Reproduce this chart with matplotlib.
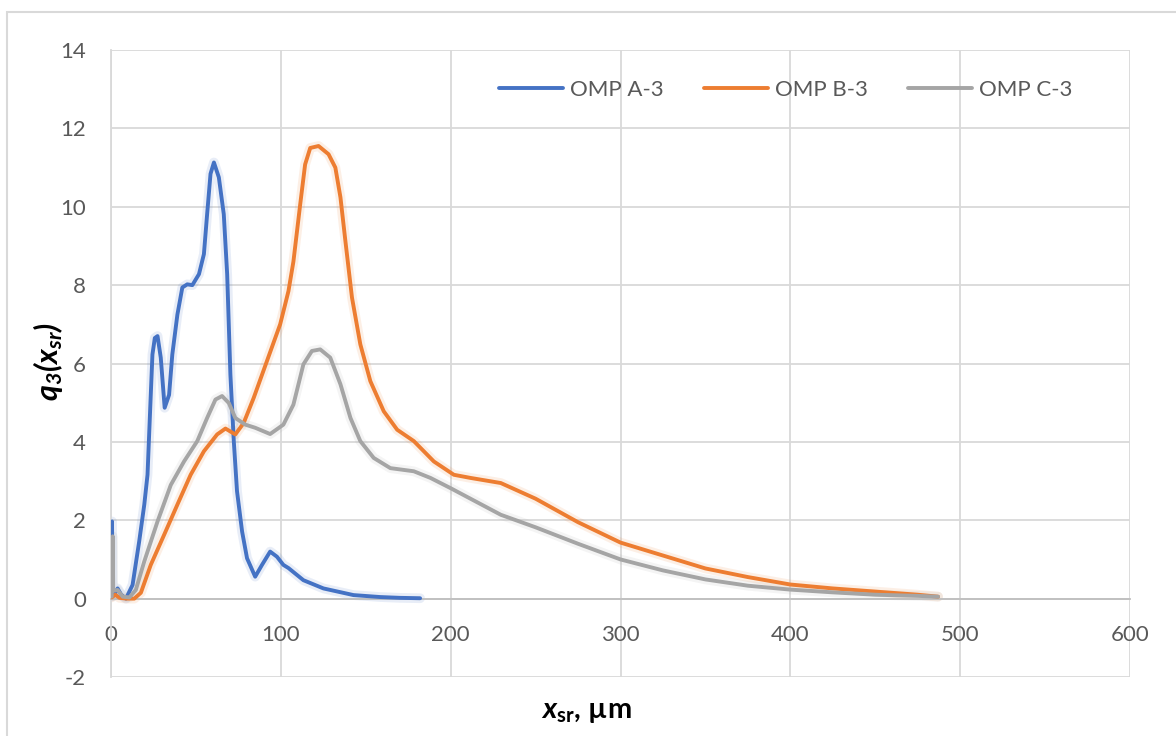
import matplotlib
matplotlib.use("Agg")
import matplotlib.pyplot as plt
from matplotlib.patches import Rectangle

# OMP A-3
xa = [0.4, 0.6, 0.9, 2.0, 3.9, 6.0, 8.8, 12.7, 16.6, 19.6, 21.5, 23.1, 24.4, 25.8, 27.4,
      29.3, 31.6, 34.2, 36.1, 39.1, 42.0, 44.9, 47.9, 51.8, 54.7, 56.6, 58.6, 60.6,
      63.5, 66.4, 68.4, 70.3, 72.3, 74.2, 77.2, 80.1, 84.9, 88.9, 93.7, 97.7, 101.5,
      104.5, 113.3, 125.1, 142.8, 158.6, 170.0, 182.0]
ya = [1.3, 1.97, 0.06, 0.1, 0.26, 0.1, 0.0, 0.35, 1.46, 2.4, 3.16, 4.87, 6.23, 6.65, 6.7,
      6.15, 4.87, 5.2, 6.23, 7.25, 7.94, 8.02, 8.0, 8.28, 8.79, 9.81, 10.84, 11.13,
      10.75, 9.81, 8.28, 5.72, 4.02, 2.74, 1.71, 1.03, 0.56, 0.86, 1.2, 1.07, 0.86,
      0.78, 0.47, 0.26, 0.09, 0.04, 0.02, 0.01]

# OMP B-3
xb = [0.4, 2.5, 5.0, 9.0, 13.7, 17.6, 23.4, 31.3, 39.1, 46.9, 54.7, 62.5, 67.4, 73.2,
      78.1, 84.0, 91.8, 99.6, 102.5, 104.5, 107.4, 111.4, 114.3, 117.3, 122.2, 128.1,
      132.1, 135.1, 138.0, 141.9, 146.8, 152.7, 160.6, 168.5, 178.3, 190.1, 201.9,
      211.7, 229.5, 250.0, 275.0, 300.0, 325.0, 350.0, 375.0, 400.0, 425.0, 450.0,
      475.0, 487.0]
yb = [0.03, 0.1, 0.02, 0.0, 0.0, 0.15, 0.86, 1.63, 2.4, 3.16, 3.76, 4.19, 4.34, 4.19,
      4.48, 5.12, 6.06, 7.0, 7.5, 7.85, 8.6, 10.06, 11.08, 11.5, 11.55, 11.34,
      11.0, 10.24, 9.13, 7.68, 6.49, 5.55, 4.78, 4.31, 4.02, 3.5, 3.16,
      3.08, 2.95, 2.55, 1.95, 1.43, 1.1, 0.77, 0.55, 0.36, 0.26, 0.18,
      0.1, 0.05]

# OMP C-3
xc = [0.4, 1.0, 1.3, 3.9, 6.9, 10.8, 14.6, 19.6, 27.4, 35.2, 43.0, 50.8, 56.6, 61.5,
      65.4, 69.4, 73.2, 79.1, 84.9, 93.7, 101.5, 107.4, 113.3, 118.3, 123.2, 129.1,
      135.1, 141.0, 146.8, 154.7, 164.5, 178.3, 188.1, 199.9, 229.5, 250.0, 275.0,
      300.0, 325.0, 350.0, 375.0, 400.0, 425.0, 450.0, 475.0, 487.0]
yc = [0.05, 1.59, 0.2, 0.22, 0.05, 0.03, 0.22, 0.95, 1.97, 2.9, 3.5, 4.02, 4.61, 5.08,
      5.17, 4.99, 4.61, 4.44, 4.36, 4.2, 4.44, 4.95, 5.98, 6.32, 6.36, 6.15,
      5.47, 4.61, 4.02, 3.59, 3.33, 3.25, 3.08, 2.82, 2.14, 1.82, 1.4,
      1.0, 0.72, 0.49, 0.33, 0.23, 0.16, 0.1, 0.07, 0.05]

labels = ["OMP A-3", "OMP B-3", "OMP C-3"]
colors = ["#4472C4", "#ED7D31", "#A5A5A5"]

plt.rcParams["font.family"] = ["Lato", "DejaVu Sans"]
plt.rcParams["axes.unicode_minus"] = False
plt.rcParams["mathtext.fontset"] = "custom"
plt.rcParams["mathtext.rm"] = "Lato:bold"
plt.rcParams["mathtext.bf"] = "Lato:bold"
plt.rcParams["mathtext.it"] = "Lato:bold:italic"
plt.rcParams["mathtext.bfit"] = "Lato:bold:italic"

fig = plt.figure(figsize=(11.76, 7.36), dpi=100)
fig.patches.append(Rectangle((7 / 1176, -0.1), 1.2, 1 - 12 / 736 + 0.1,
                             transform=fig.transFigure, fill=False,
                             edgecolor="#d9d9d9", linewidth=1.5))
ax = fig.add_axes([111 / 1176, 1 - 677 / 736, (1130 - 111) / 1176, (677 - 50) / 736])

for x, y, c, lab in zip([xa, xb, xc], [ya, yb, yc], colors, labels):
    ax.plot(x, y, color=c, lw=7, alpha=0.12, solid_capstyle="round",
            solid_joinstyle="round", zorder=2)
    ax.plot(x, y, color=c, lw=2.8, label=lab, solid_capstyle="round",
            solid_joinstyle="round", zorder=3)

ax.set_xlim(0, 600)
ax.set_ylim(-2, 14)
ax.set_xticks(range(0, 601, 100))
ax.set_yticks(range(-2, 15, 2))
ax.grid(True, color="#d9d9d9", linewidth=1.3)
ax.set_axisbelow(True)
for s in ["top", "right"]:
    ax.spines[s].set_visible(False)
ax.spines["bottom"].set_position(("data", 0))
ax.spines["bottom"].set_color("#bfbfbf")
ax.spines["bottom"].set_linewidth(1.3)
ax.spines["left"].set_color("#d9d9d9")
ax.spines["left"].set_linewidth(1.3)
ax.tick_params(axis="both", length=0, labelsize=16, labelcolor="#595959")
ax.tick_params(axis="x", pad=19)
ax.tick_params(axis="y", pad=18)

fig.text(48 / 1176, 1 - 362 / 736,
         r"$\mathbfit{q}_{\mathbfit{3}}\mathbfit{(x}_{\mathbfit{sr}}\mathbfit{)}$",
         rotation=90, ha="center", va="center", fontsize=22)
fig.text(586 / 1176, 1 - 712 / 736, r"$\mathbfit{x}_{\mathbf{sr}}$, µm",
         ha="center", va="center", fontsize=21, fontweight="bold")

ax.legend(loc="center right", bbox_to_anchor=(1092 / 1176, 1 - 90 / 736),
          bbox_transform=fig.transFigure, ncol=3, frameon=False, fontsize=16,
          labelcolor="#595959", handlelength=2.9, handletextpad=0.3,
          columnspacing=1.8)

fig.savefig("out.png", dpi=100)
